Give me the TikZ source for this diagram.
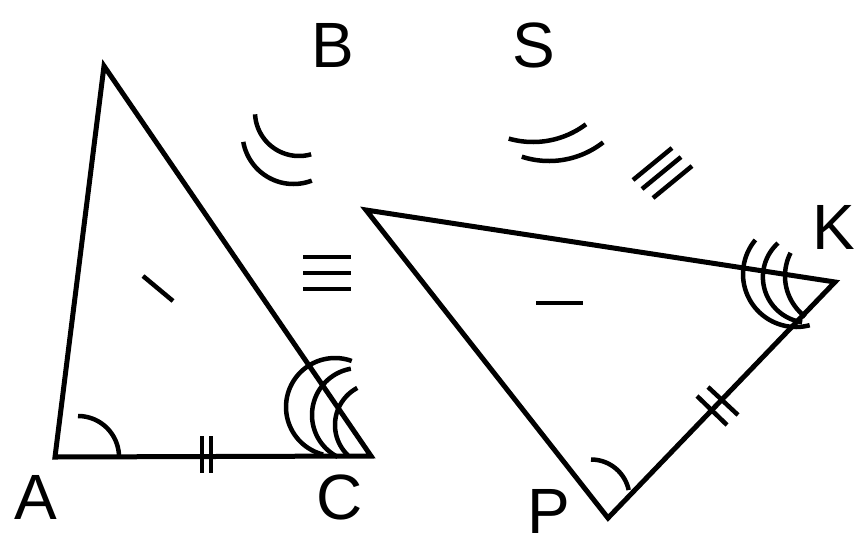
\documentclass[tikz,border=0pt]{standalone}
\usepackage{fontspec}
\setmainfont{Liberation Sans}
\newcommand{\markarc}[5]{\draw[tickmark] plot[domain=#4:#5,samples=50,smooth] ({#1+#3*cos(\x)},{#2+#3*sin(\x)});}
\begin{document}
\begin{tikzpicture}[x=1pt,y=-1pt,line join=miter,
  tri/.style={line width=5pt},
  tickmark/.style={line width=4.5pt},
  lbl/.style={font=\fontsize{64}{64}\selectfont, inner sep=0pt}]
\useasboundingbox (0,0) rectangle (857,547);
% triangle ABC
\coordinate (A) at (55,457);
\coordinate (B) at (104,66);
\coordinate (C) at (371,456);
\draw[tri] (A) -- (B) -- (C) -- cycle;
% triangle SPK
\coordinate (S) at (366,210);
\coordinate (K) at (835,282);
\coordinate (P) at (608,518);
\draw[tri] (S) -- (K) -- (P) -- cycle;
% labels
\node[lbl] (lB) at (333,45) {B};
\node[lbl] (lS) at (534,45) {S};
\node[lbl] (lA) at (36,497) {A};
\node[lbl] (lC) at (340,497) {C};
\node[lbl] (lP) at (549,511) {P};
\node[lbl] (lK) at (834,227) {K};
% angle A
\markarc{78}{457}{41}{270}{360}
% angle P
\markarc{591}{498}{38.5}{270}{348}
% angle C (triple)
\markarc{335}{407}{49}{104}{290}
\markarc{359}{415}{47}{117}{260}
\markarc{377}{425}{42}{134}{242}
% angle K (triple)
\markarc{796}{274}{53}{75}{220}
\markarc{808.5}{277}{45.6}{98}{228}
\markarc{836}{276}{51}{127}{207}
% floating double arc (B)
\markarc{299}{112}{44}{74}{177}
\markarc{293.5}{133}{51}{69}{170}
% floating double arc (S)
\markarc{533}{54}{88}{53}{106}
\markarc{549}{73}{88}{52}{108}
% ticks
\draw[tickmark] (202,436) -- (202,473);
\draw[tickmark] (211,436) -- (211,473);
\draw[tickmark] (697,396) -- (727,425);
\draw[tickmark] (708,387) -- (738,415);
\draw[tickmark] (143,276) -- (173,301);
\draw[tickmark] (536,303) -- (583,303);
% triple bars
\draw[tickmark] (303,257) -- (351,257);
\draw[tickmark] (303,273) -- (351,273);
\draw[tickmark] (303,289) -- (351,289);
% slanted triple
\draw[tickmark] (633,180) -- (672,148);
\draw[tickmark] (642,189) -- (681,157);
\draw[tickmark] (653,198) -- (692,166);
\end{tikzpicture}
\end{document}
